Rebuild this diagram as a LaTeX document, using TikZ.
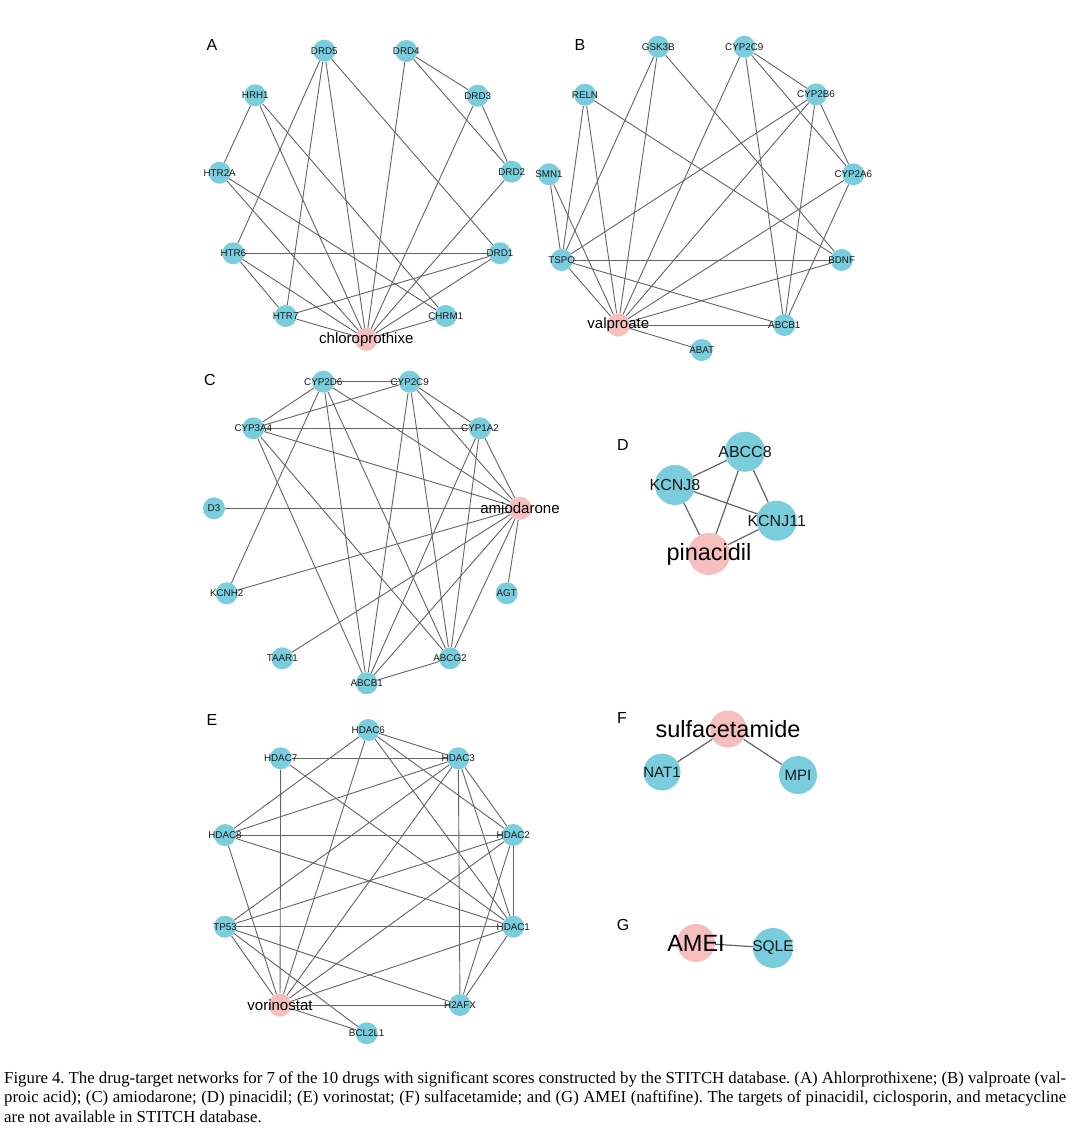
\documentclass[tikz,border=0pt]{standalone}
\usepackage{fontspec}
\setmainfont{Liberation Serif}
\newfontfamily\arialf{Liberation Sans}
\usetikzlibrary{backgrounds}
\definecolor{tcyan}{RGB}{122,205,220}
\definecolor{dpink}{RGB}{247,190,190}
\definecolor{edgec}{RGB}{100,100,100}
\frenchspacing
\begin{document}
\begin{tikzpicture}[x=1pt,y=-1pt,
  tnode/.style={circle,fill=tcyan,minimum size=22pt,inner sep=0pt,draw=none},
  dnode/.style={circle,fill=dpink,minimum size=23pt,inner sep=0pt,draw=none},
  small/.style={font=\arialf\fontsize{9.8}{10}\selectfont,text=black!90,inner sep=0pt},
  drug/.style={font=\arialf\fontsize{15}{15}\selectfont,text=black,inner sep=0pt},
  mid/.style={font=\arialf\fontsize{16}{16}\selectfont,text=black!90,inner sep=0pt},
  big/.style={font=\arialf\fontsize{23.5}{24}\selectfont,text=black,inner sep=0pt},
  edge/.style={draw=edgec,line width=0.9pt},
  plabel/.style={font=\arialf\fontsize{16}{16}\selectfont,anchor=center,inner sep=0pt},
  capline/.style={font=\fontsize{16.8}{19.5}\selectfont,anchor=base west,inner sep=0pt},
]
\useasboundingbox (0,0) rectangle (1077,1135);

% ---------------- Panel A ----------------
\node[plabel] (labA) at (212,45) {A};
\node[tnode,label={[small]center:DRD5}] (aDRD5) at (324.3,50.7) {};
\node[tnode,label={[small]center:DRD4}] (aDRD4) at (406.3,51) {};
\node[tnode,label={[small]center:HRH1}] (aHRH1) at (255.3,95.3) {};
\node[tnode,label={[small]center:DRD3}] (aDRD3) at (477.7,95.7) {};
\node[tnode,label={[small]center:HTR2A}] (aHTR2A) at (219.7,172.7) {};
\node[tnode,label={[small]center:DRD2}] (aDRD2) at (511.7,171.7) {};
\node[tnode,label={[small]center:HTR6}] (aHTR6) at (233.3,253.3) {};
\node[tnode,label={[small]center:DRD1}] (aDRD1) at (500,253.3) {};
\node[tnode,label={[small]center:HTR7}] (aHTR7) at (285.7,316) {};
\node[tnode,label={[small]center:CHRM1}] (aCHRM1) at (445.7,316) {};
\node[dnode,label={[drug]center:chloroprothixe}] (aCHL) at (366.3,339.3) {};

% ---------------- Panel B ----------------
\node[plabel] (labB) at (580,45) {B};
\node[tnode,label={[small]center:GSK3B}] (bGSK) at (658.3,46.7) {};
\node[tnode,label={[small]center:CYP2C9}] (bC2C9) at (744.3,46.7) {};
\node[tnode,label={[small]center:RELN}] (bRELN) at (585,94.7) {};
\node[tnode,label={[small]center:CYP2B6}] (bC2B6) at (816,94.3) {};
\node[tnode,label={[small]center:SMN1}] (bSMN1) at (549,174.3) {};
\node[tnode,label={[small]center:CYP2A6}] (bC2A6) at (853.3,174.3) {};
\node[tnode,label={[small]center:TSPO}] (bTSPO) at (561.7,260) {};
\node[tnode,label={[small]center:BDNF}] (bBDNF) at (841.7,260) {};
\node[dnode,label={[drug]center:valproate}] (bVAL) at (618.3,325) {};
\node[tnode,label={[small]center:ABCB1}] (bABCB1) at (784.3,325) {};
\node[tnode,label={[small]center:ABAT}] (bABAT) at (701.7,350) {};

% ---------------- Panel C ----------------
\node[plabel] (labC) at (210,380) {C};
\node[tnode,label={[small]center:CYP2D6}] (cD6) at (323.3,381.7) {};
\node[tnode,label={[small]center:CYP2C9}] (cC9) at (409.7,381.7) {};
\node[tnode,label={[small]center:CYP3A4}] (c3A4) at (253.3,428.3) {};
\node[tnode,label={[small]center:CYP1A2}] (c1A2) at (480,428.3) {};
\node[tnode,label={[small]center:D3}] (cD3) at (214,508.3) {};
\node[dnode,label={[drug]center:amiodarone}] (cAMI) at (520,508.3) {};
\node[tnode,label={[small]center:KCNH2}] (cKCNH2) at (226.7,593.3) {};
\node[tnode,label={[small]center:AGT}] (cAGT) at (506.7,593.3) {};
\node[tnode,label={[small]center:TAAR1}] (cTAAR1) at (282.3,658.3) {};
\node[tnode,label={[small]center:ABCG2}] (cABCG2) at (450,658.3) {};
\node[tnode,label={[small]center:ABCB1}] (cABCB1) at (366.7,683.3) {};

% ---------------- Panel E ----------------
\node[plabel] (labE) at (212,720) {E};
\node[tnode,label={[small]center:HDAC6}] (eH6) at (368.3,730) {};
\node[tnode,label={[small]center:HDAC7}] (eH7) at (280.7,758.3) {};
\node[tnode,label={[small]center:HDAC3}] (eH3) at (458.3,758.3) {};
\node[tnode,label={[small]center:HDAC8}] (eH8) at (225,835) {};
\node[tnode,label={[small]center:HDAC2}] (eH2) at (513.3,835) {};
\node[tnode,label={[small]center:TP53}] (eTP53) at (225,926.7) {};
\node[tnode,label={[small]center:HDAC1}] (eH1) at (513.3,926.7) {};
\node[dnode,label={[drug]center:vorinostat}] (eVOR) at (280,1005) {};
\node[tnode,label={[small]center:H2AFX}] (eH2AFX) at (460,1005) {};
\node[tnode,label={[small]center:BCL2L1}] (eBCL) at (366.7,1033.3) {};

% ---------------- Panel D ----------------
\node[plabel] (labD) at (623,445) {D};
\node[tnode,minimum size=40pt,label={[mid]center:ABCC8}] (dABCC8) at (745,451.7) {};
\node[tnode,minimum size=40pt,label={[mid]center:KCNJ8}] (dKCNJ8) at (675,485) {};
\node[tnode,minimum size=40pt,label={[mid]center:KCNJ11}] (dKCNJ11) at (776.7,520.7) {};
\node[dnode,minimum size=42pt,label={[big]center:pinacidil}] (dPIN) at (709,554) {};

% ---------------- Panel F ----------------
\node[plabel] (labF) at (622,718) {F};
\node[dnode,minimum size=37pt,label={[big]center:sulfacetamide}] (fSUL) at (728,729) {};
\node[tnode,minimum size=37pt,label={[mid,font=\arialf\fontsize{15}{15}\selectfont]center:NAT1}] (fNAT1) at (662,772) {};
\node[tnode,minimum size=38pt,label={[mid,font=\arialf\fontsize{15}{15}\selectfont]center:MPI}] (fMPI) at (798,775) {};

% ---------------- Panel G ----------------
\node[plabel] (labG) at (623,925) {G};
\node[dnode,minimum size=38pt,label={[big]center:AMEI}] (gAMEI) at (696,943) {};
\node[tnode,minimum size=40pt,label={[mid,font=\arialf\fontsize{15.5}{16}\selectfont]center:SQLE}] (gSQLE) at (773,948) {};

% ---------------- Edges ----------------
\begin{scope}[on background layer]
\fill[white] (0,0) rectangle (1077,1135);
\foreach \a/\b in {aDRD5/aHTR6,aDRD5/aHTR7,aDRD5/aCHL,aDRD5/aDRD1,aDRD4/aDRD3,aDRD4/aDRD2,aDRD4/aCHL,aDRD3/aDRD2,aDRD3/aCHL,aDRD2/aCHL,aHRH1/aHTR2A,aHRH1/aCHL,aHRH1/aCHRM1,aHTR2A/aCHL,aHTR2A/aCHRM1,aHTR6/aDRD1,aHTR6/aHTR7,aHTR6/aCHL,aDRD1/aHTR7,aDRD1/aCHL,aHTR7/aCHL,aCHRM1/aCHL}
  \draw[edge] (\a) -- (\b);
\foreach \a/\b in {bGSK/bTSPO,bGSK/bVAL,bGSK/bBDNF,bC2C9/bVAL,bC2C9/bABCB1,bC2C9/bC2B6,bC2C9/bC2A6,bC2B6/bTSPO,bC2B6/bVAL,bC2B6/bABCB1,bC2B6/bC2A6,bRELN/bTSPO,bRELN/bVAL,bRELN/bBDNF,bSMN1/bTSPO,bSMN1/bVAL,bC2A6/bVAL,bC2A6/bABCB1,bTSPO/bBDNF,bTSPO/bVAL,bTSPO/bABCB1,bBDNF/bVAL,bVAL/bABCB1,bVAL/bABAT}
  \draw[edge] (\a) -- (\b);
\foreach \a/\b in {cD6/cC9,cD6/c3A4,cD6/cKCNH2,cD6/cABCB1,cD6/cABCG2,cD6/cAMI,cC9/c3A4,cC9/c1A2,cC9/cAMI,cC9/cABCB1,cC9/cABCG2,c3A4/c1A2,c3A4/cAMI,c3A4/cABCB1,c3A4/cABCG2,c1A2/cAMI,c1A2/cABCB1,c1A2/cABCG2,cD3/cAMI,cKCNH2/cAMI,cTAAR1/cAMI,cAGT/cAMI,cABCB1/cAMI,cABCG2/cAMI,cABCB1/cABCG2}
  \draw[edge] (\a) -- (\b);
\foreach \a/\b in {eH6/eH3,eH6/eH2,eH6/eH1,eH6/eH8,eH6/eVOR,eH7/eH3,eH7/eVOR,eH7/eH1,eH3/eH8,eH3/eTP53,eH3/eVOR,eH3/eH2,eH3/eH1,eH3/eH2AFX,eH8/eH2,eH8/eH1,eH8/eVOR,eH2/eTP53,eH2/eVOR,eH2/eH1,eH2/eH2AFX,eTP53/eH1,eTP53/eVOR,eTP53/eH2AFX,eTP53/eBCL,eH1/eVOR,eH1/eH2AFX,eVOR/eH2AFX,eVOR/eBCL}
  \draw[edge] (\a) -- (\b);
\foreach \a/\b in {dABCC8/dKCNJ8,dABCC8/dKCNJ11,dABCC8/dPIN,dKCNJ8/dKCNJ11,dKCNJ8/dPIN,dKCNJ11/dPIN,fSUL/fNAT1,fSUL/fMPI,gAMEI/gSQLE}
  \draw[edge,line width=1.2pt] (\a) -- (\b);
\end{scope}

% ---------------- Caption ----------------
\node[capline] (cap1) at (4,1083) {\makebox[1062pt][s]{Figure 4. The drug-target networks for 7 of the 10 drugs with significant scores constructed by the STITCH database. (A) Ahlorprothixene; (B) valproate (val-}};
\node[capline] (cap2) at (4,1102.5) {\makebox[1062pt][s]{proic acid); (C) amiodarone; (D) pinacidil; (E) vorinostat; (F) sulfacetamide; and (G) AMEI (naftifine). The targets of pinacidil, ciclosporin, and metacycline}};
\node[capline] (cap3) at (4,1122) {are not available in STITCH database.};
\end{tikzpicture}
\end{document}
